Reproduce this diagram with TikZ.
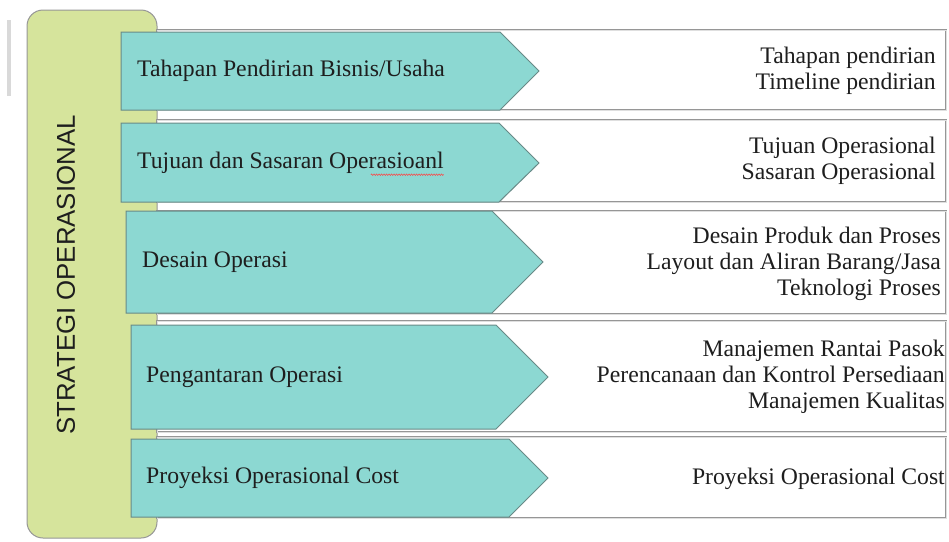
\documentclass[tikz,border=0pt]{standalone}
\usepackage{fontspec}
\setmainfont{Liberation Serif}
\setsansfont{Liberation Sans}
\usetikzlibrary{calc, decorations.pathmorphing}
\definecolor{tosca}{RGB}{140,216,210}
\definecolor{toscaline}{RGB}{104,138,135}
\definecolor{pupus}{RGB}{214,228,156}
\definecolor{garis}{RGB}{150,150,150}
\definecolor{teks}{RGB}{30,30,30}
\tikzset{
  kotak/.style={fill=white, draw=garis, double=gray!25, double distance=1pt, line width=0.8pt},
  panah/.style={fill=tosca, draw=toscaline, line width=1pt},
  judul/.style={anchor=west, inner sep=0pt, text=teks, font=\fontsize{23.7}{26}\selectfont},
  isi/.style={anchor=east, inner sep=0pt, align=right, text=teks, font=\fontsize{23.7}{26}\selectfont},
}

\begin{document}
\begin{tikzpicture}[x=1pt, y=-1pt]
\useasboundingbox (0,0) rectangle (949,541);
\draw[line width=3.5pt, gray!30] (9,20) -- (9,96);
\draw[fill=pupus, draw=garis, line width=1pt, rounded corners=16pt] (27,10) rectangle (157,538);
\node[rotate=90, font=\sffamily\fontsize{25.8}{26}\selectfont, text=teks] (S) at (66,275) {STRATEGI OPERASIONAL};
\draw[kotak] (157,30) rectangle (946,110);
\draw[panah] (121,32) -- (500,32) -- (539,71) -- (500,110) -- (121,110) -- cycle;
\node[judul] (T1) at (137,71) {Tahapan Pendirian Bisnis/Usaha};
\node[isi] (R1) at (936,71) {Tahapan pendirian\\Timeline pendirian};
\draw[kotak] (157,120) rectangle (946,202);
\draw[panah] (121,123) -- (499,123) -- (539,163) -- (499,202) -- (121,202) -- cycle;
\node[judul] (T2) at (137,163) {Tujuan dan Sasaran Operasioanl};
\node[isi] (R2) at (936,161) {Tujuan Operasional\\Sasaran Operasional};
\draw[red!75, line width=0.5pt, decorate, decoration={zigzag, amplitude=0.8pt, segment length=2.5pt}] ($(T2.base east)+(-73,6)$) -- ($(T2.base east)+(0,6)$);
\draw[kotak] (157,211) rectangle (946,314);
\draw[panah] (126,211) -- (492,211) -- (543,262) -- (492,313) -- (126,313) -- cycle;
\node[judul] (T3) at (142,262) {Desain Operasi};
\node[isi] (R3) at (941,264) {Desain Produk dan Proses\\Layout dan Aliran Barang/Jasa\\Teknologi Proses};
\draw[kotak] (157,321) rectangle (946,432);
\draw[panah] (131,325) -- (496,325) -- (548,377) -- (496,429) -- (131,429) -- cycle;
\node[judul] (T4) at (146,377) {Pengantaran Operasi};
\node[isi] (R4) at (945,377) {Manajemen Rantai Pasok\\Perencanaan dan Kontrol Persediaan\\Manajemen Kualitas};
\draw[kotak] (157,437) rectangle (946,518);
\draw[panah] (131,439) -- (509,439) -- (548,478) -- (509,517) -- (131,517) -- cycle;
\node[judul] (T5) at (146,478) {Proyeksi Operasional Cost};
\node[isi] (R5) at (945,479) {Proyeksi Operasional Cost};
\end{tikzpicture}
\end{document}
